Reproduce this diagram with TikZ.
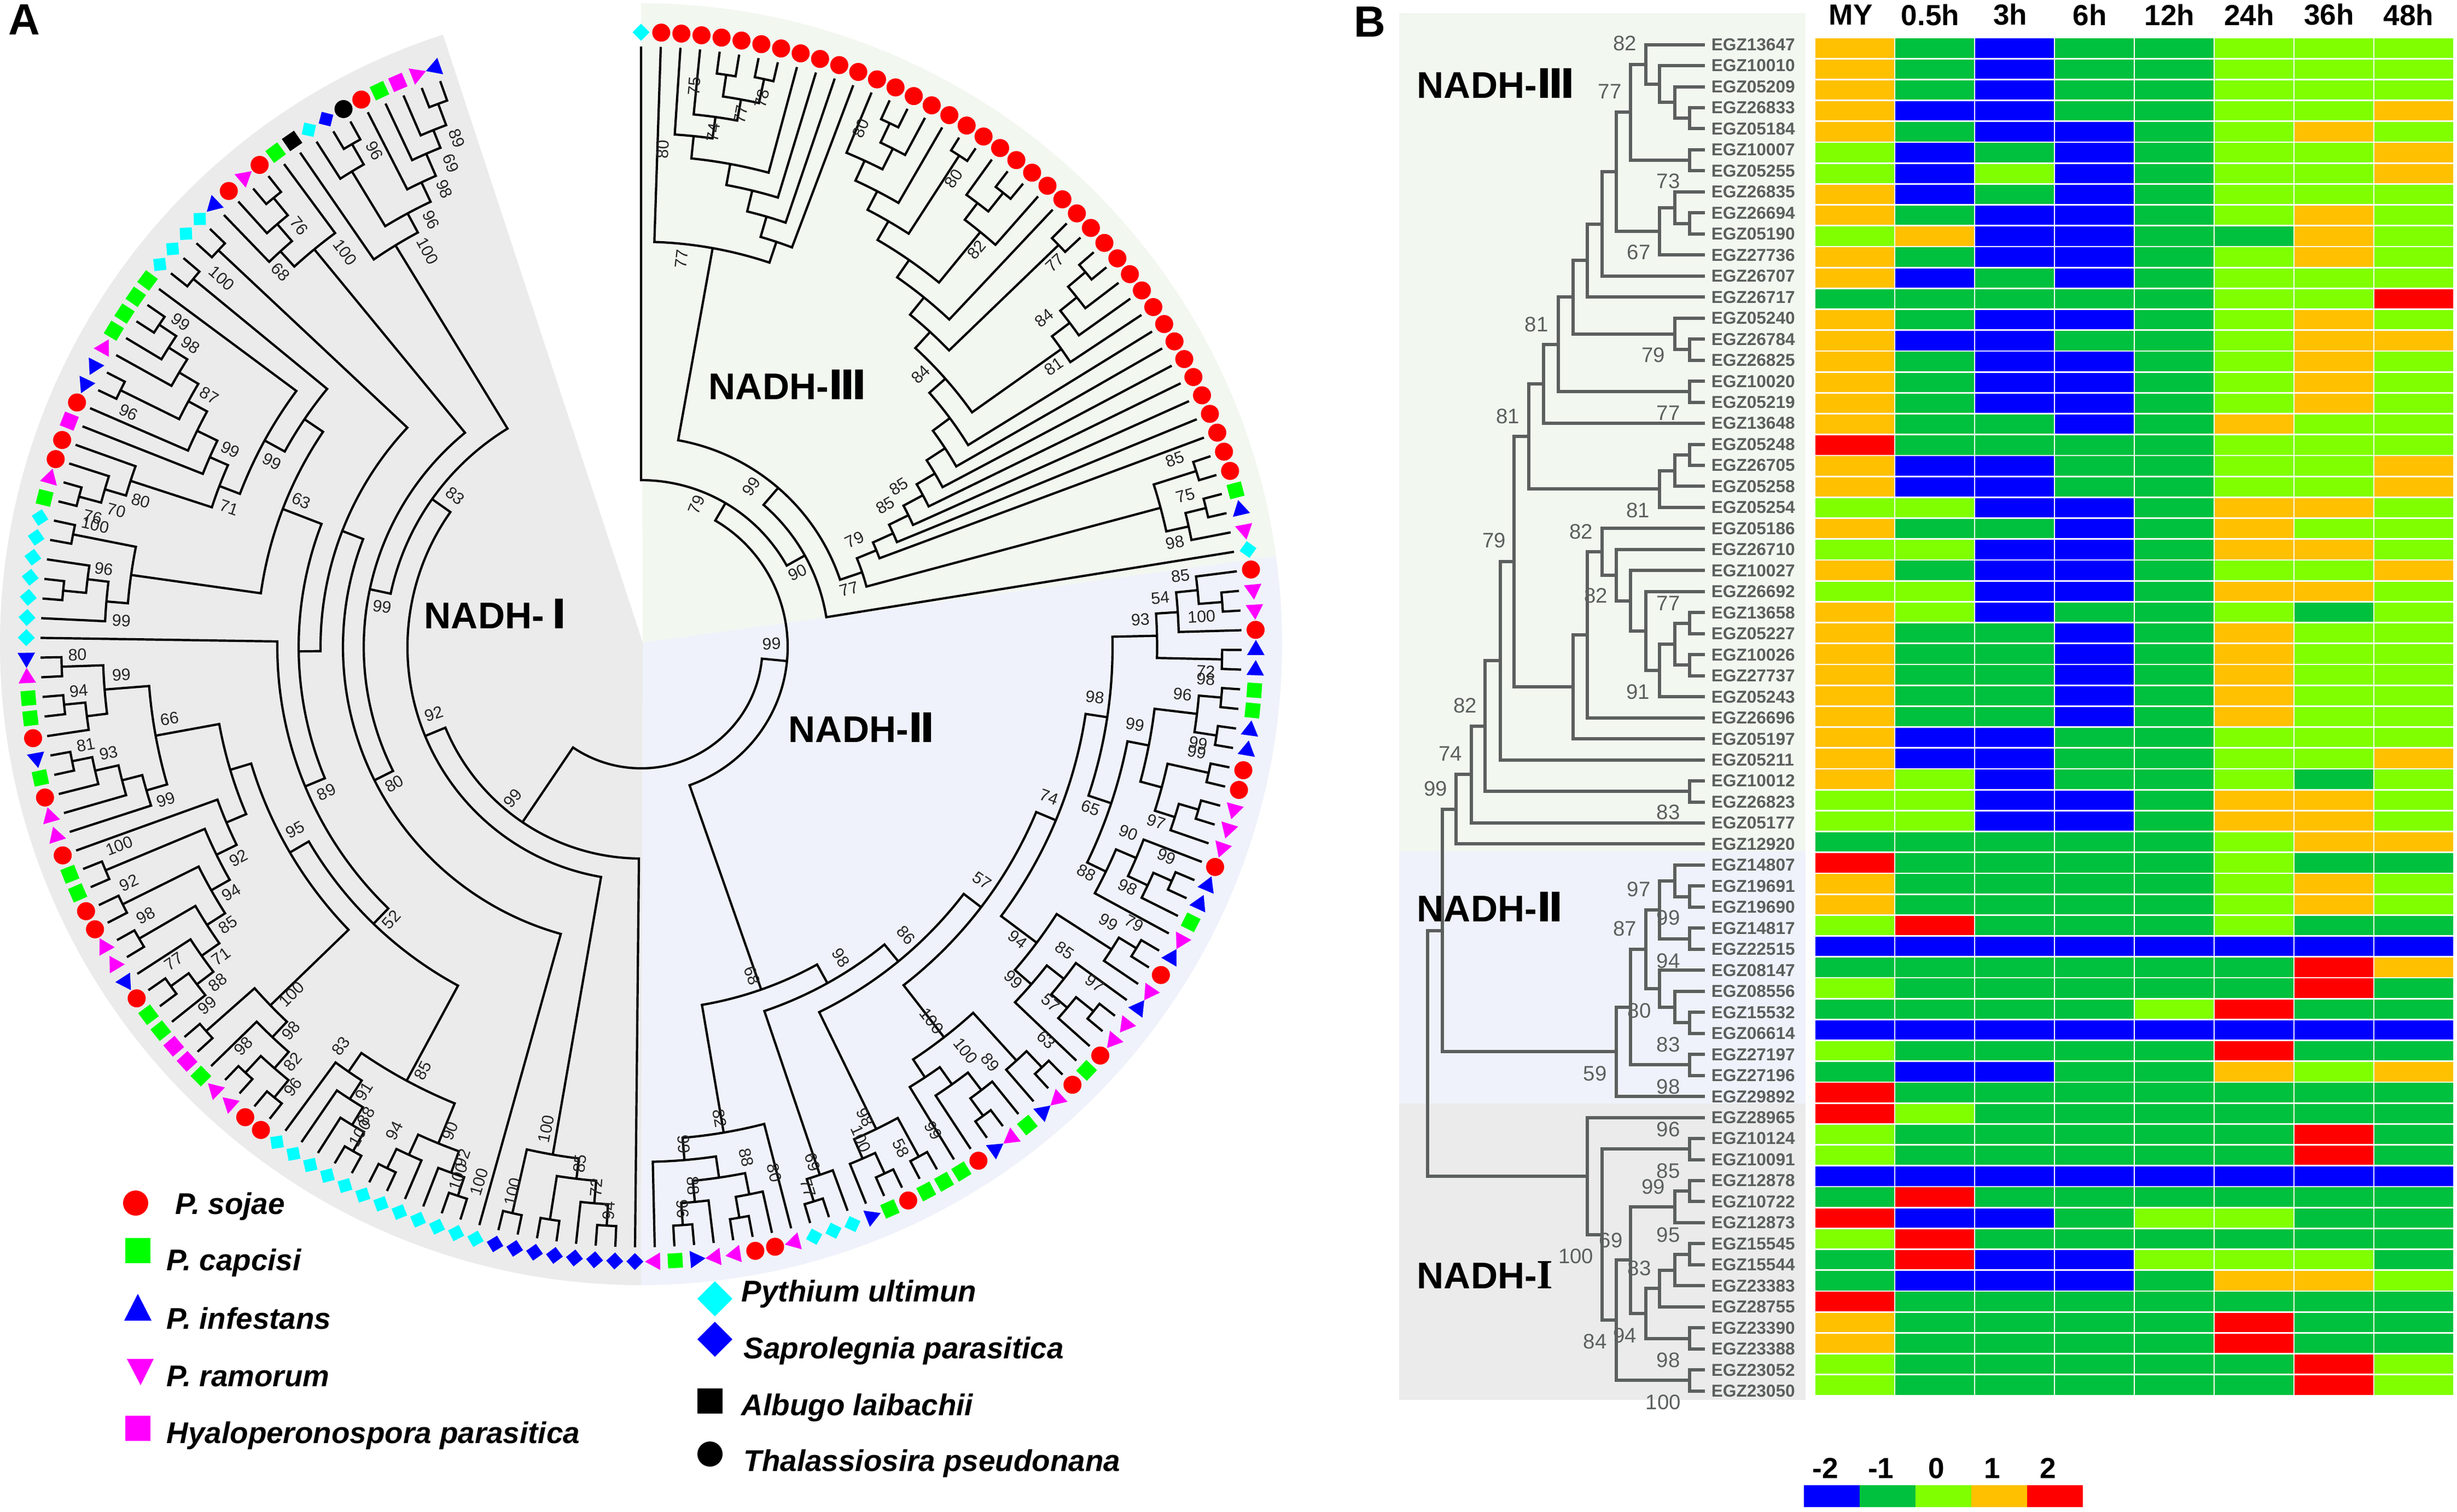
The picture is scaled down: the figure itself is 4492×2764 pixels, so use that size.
\documentclass[tikz,border=0pt]{standalone}
\usepackage{fontspec}
\setmainfont{Liberation Sans}
\newfontfamily\romfont{DejaVu Sans}
\newfontfamily\serfont{Liberation Serif}
\def\rmn#1{{\romfont\fontsize{18.6}{19}\selectfont #1}}
\definecolor{hO}{HTML}{FFC000}
\definecolor{hG}{HTML}{00C13E}
\definecolor{hL}{HTML}{80FF00}
\definecolor{hB}{HTML}{0000FF}
\definecolor{hR}{HTML}{FF0000}
\definecolor{bgg}{HTML}{F2F7F0}
\definecolor{bgb}{HTML}{EFF2FA}
\definecolor{bgk}{HTML}{EBEBEB}
\definecolor{treeb}{HTML}{5B605E}
\definecolor{mcy}{HTML}{00FFFF}
\definecolor{mgr}{HTML}{00FF00}
\definecolor{mma}{HTML}{FF00FF}
\tikzset{
  cbr/.style={line width=1.05pt,black,line cap=butt,line join=miter},
  bbr/.style={line width=1.5pt,treeb,line cap=butt,line join=miter},
  lab/.style={font=\fontsize{7.6}{8}\selectfont,inner sep=0pt,text=black!85},
  blab/.style={font=\fontsize{9.6}{10}\selectfont,inner sep=0pt,text=treeb},
  gene/.style={font=\fontsize{7.9}{9}\selectfont\bfseries,inner sep=0pt,anchor=west,text=treeb},
  clade/.style={font=\fontsize{17}{18}\selectfont\bfseries,inner sep=0pt,anchor=west},
  head/.style={font=\fontsize{13.3}{14}\selectfont\bfseries,inner sep=0pt},
  legt/.style={font=\fontsize{13.7}{15}\selectfont\bfseries\itshape,inner sep=0pt,anchor=west},
  pan/.style={font=\fontsize{20}{22}\selectfont\bfseries,inner sep=0pt},
}
\def\tstep{1.881}
\newcount\lfc \lfc=-1
\def\Lv{\global\advance\lfc by 1 \xdef\retP{\the\lfc}\xdef\retR{1098}}
\def\Nr#1#2#3{\begingroup
  #2\edef\myPa{\retP}\edef\myRa{\retR}%
  #3\edef\myPb{\retP}\edef\myRb{\retR}%
  \pgfmathsetmacro\myAa{90-\tstep*\myPa}\pgfmathsetmacro\myAb{90-\tstep*\myPb}%
  \pgfmathsetmacro\myRn{#1}%
  \draw[cbr] (\myAa:\myRa) -- (\myAa:\myRn) arc[start angle=\myAa,end angle=\myAb,radius=\myRn] -- (\myAb:\myRb);%
  \pgfmathsetmacro\myMid{(\myPa+\myPb)/2}\xdef\retP{\myMid}\xdef\retR{\myRn}%
  \endgroup}
\def\Na#1#2{\Nr{veclen(#1/1.307-1172,#2/1.307-1183)}}
\def\Nb#1#2{\Nr{veclen(#1/1.307-1172,#2/1.307+1150-1183)}}
\def\Nc#1#2{\Nr{veclen(#1/1.2975+1150-1172,#2/1.363-1183)}}
\def\Nd#1#2{\Nr{veclen(#1/1.2975+1150-1172,#2/1.254+1100-1183)}}
% section III
\def\TVa{\Nc{58}{603}{\Lv}{\Nc{388}{617}{\Nc{372}{555}{\Nc{352}{492}{\Nc{330}{430}{\Nc{105}{335}{\Lv}{\Nc{152}{285}{\Lv}{\Nc{220}{240}{\Nc{207}{183}{\Lv}{\Lv}}{\Nc{297}{192}{\Lv}{\Lv}}}}}{\Lv}}{\Lv}}{\Lv}}{\Lv}}}
\def\TwT{\Nc{565}{522}{\Nc{537}{450}{\Nc{515}{380}{\Lv}{\Nc{597}{355}{\Nc{598}{297}{\Lv}{\Lv}}{\Lv}}}{\Lv}}{\Nc{757}{370}{\Lv}{\Lv}}}
\def\TpO{\Nc{797}{548}{\Nc{803}{487}{\Lv}{\Nc{870}{465}{\Lv}{\Lv}}}{\Lv}}
\def\TuT{\Nc{668}{785}{\Nc{635}{690}{\Nc{590}{598}{\TwT}{\TpO}}{\Lv}}{\Nc{1005}{595}{\Lv}{\Lv}}}
\def\TuN{\Nc{1005}{840}{\Nc{1025}{777}{\Nc{1042}{715}{\Nc{1068}{660}{\Lv}{\Lv}}{\Lv}}{\Lv}}{\Lv}}
\def\TuO{\Nc{580}{1355}{\Nc{618}{1310}{\Nc{652}{1262}{\Nc{683}{1208}{\Nc{708}{1150}{\Nc{722}{1075}{\Nc{715}{982}{\Nc{680}{868}{\TuT}{\TuN}}{\Lv}}{\Lv}}{\Lv}}{\Lv}}{\Lv}}{\Lv}}{\Lv}}
\def\TCc{\Nc{1245}{1208}{\Nc{1338}{1150}{\Lv}{\Lv}}{\Nc{1320}{1278}{\Nc{1363}{1243}{\Lv}{\Lv}}{\Lv}}}
\def\TIII{\Nr{305}{\Lv}{\Nr{343}{\Nr{384}{\TVa}{\Nc{540}{1390}{\TuO}{\TCc}}}{\Lv}}}
% section II
\def\Tmm{\Nc{1298}{1478}{\Nc{1345}{1437}{\Lv}{\Nc{1405}{1475}{\Lv}{\Lv}}}{\Lv}}
\def\Too{\Nd{1250}{25}{\Tmm}{\Nd{1407}{108}{\Lv}{\Lv}}}
\def\Tkk{\Nd{1247}{243}{\Nd{1352}{213}{\Nd{1407}{197}{\Lv}{\Lv}}{\Nd{1397}{285}{\Lv}{\Lv}}}{\Nd{1278}{370}{\Nd{1380}{370}{\Lv}{\Lv}}{\Nd{1305}{462}{\Nd{1358}{453}{\Lv}{\Lv}}{\Lv}}}}
\def\Tll{\Nd{1157}{565}{\Nd{1222}{543}{\Lv}{\Nd{1245}{620}{\Nd{1297}{620}{\Lv}{\Lv}}{\Lv}}}{\Lv}}
\def\Tpp{\Nd{1017}{713}{\Nd{1165}{767}{\Nd{1218}{772}{\Lv}{\Lv}}{\Lv}}{\Nd{995}{830}{\Nd{1063}{825}{\Lv}{\Nd{1065}{903}{\Nd{1120}{918}{\Lv}{\Lv}}{\Lv}}}{\Lv}}}
\def\Tqq{\Nd{820}{940}{\Nd{948}{1027}{\Nd{1000}{1050}{\Lv}{\Lv}}{\Lv}}{\Nd{742}{1065}{\Nd{808}{1078}{\Nd{867}{1097}{\Lv}{\Nd{865}{1162}{\Lv}{\Lv}}}{\Lv}}{\Lv}}}
\def\Trr{\Nd{640}{1183}{\Nd{712}{1260}{\Lv}{\Lv}}{\Nd{590}{1262}{\Nd{632}{1300}{\Lv}{\Lv}}{\Lv}}}
\def\Tss{\Nd{488}{1303}{\Lv}{\Nd{463}{1368}{\Lv}{\Lv}}}
\def\Ttt{\Nd{325}{1197}{\Lv}{\Nd{210}{1272}{\Nd{280}{1310}{\Nd{322}{1352}{\Lv}{\Nd{290}{1408}{\Lv}{\Lv}}}{\Nd{192}{1373}{\Lv}{\Nd{152}{1428}{\Lv}{\Lv}}}}{\Lv}}}
\def\TII{\Nr{664}{\Nr{703}{\Nr{743}{\Nr{783}{\Nr{822}{\Nr{862}{\Too}{\Nd{1183}{318}{\Tkk}{\Tll}}}{\Tpp}}{\Tqq}}{\Trr}}{\Tss}}{\Ttt}}
% section I
\def\TDa{\Nb{1262}{1245}{\Nb{1332}{1308}{\Nb{1390}{1370}{\Nb{1430}{1425}{\Lv}{\Lv}}{\Lv}}{\Nb{1292}{1408}{\Lv}{\Lv}}}{\Nb{1205}{1392}{\Lv}{\Lv}}}
\def\TsO{\Nb{1088}{1135}{\Nb{1100}{1250}{\Nb{1113}{1312}{\Nb{1115}{1362}{\Lv}{\Lv}}{\Lv}}{\Nb{1010}{1272}{\Lv}{\Nb{947}{1300}{\Lv}{\Lv}}}}{\Nb{865}{1080}{\Nb{870}{1145}{\Nb{818}{1172}{\Nb{868}{1262}{\Lv}{\Lv}}{\Lv}}{\Lv}}{\Lv}}}
\def\TtO{\Nb{610}{862}{\Nb{617}{943}{\Nb{627}{1025}{\Nb{640}{1108}{\Lv}{\Lv}}{\Nb{575}{1050}{\Lv}{\Lv}}}{\Lv}}{\Nb{482}{950}{\Lv}{\Lv}}}
\def\TuA{\Nb{523}{418}{\Nb{492}{485}{\Nb{478}{575}{\Nb{470}{668}{\Nb{458}{747}{\Nb{455}{830}{\Lv}{\Nb{400}{843}{\Lv}{\Lv}}}{\Lv}}{\Nb{325}{728}{\Lv}{\Lv}}}{\Nb{287}{647}{\Lv}{\Lv}}}{\Nb{247}{565}{\Lv}{\Lv}}}{\Lv}}
\def\TVv{\Nb{357}{145}{\Nb{342}{358}{\Lv}{\Nb{285}{335}{\Lv}{\Nb{222}{315}{\Lv}{\Nb{170}{305}{\Lv}{\Lv}}}}}{\Nb{247}{97}{\Nb{205}{187}{\Lv}{\Nb{152}{170}{\Lv}{\Lv}}}{\Nb{147}{78}{\Lv}{\Lv}}}}
\def\TRr{\Nr{665}{\Nr{704}{\TsO}{\Nr{744}{\TtO}{\Nr{784}{\TuA}{\TVv}}}}{\Lv}}
\def\TOo{\Na{323}{1315}{\Na{258}{1400}{\Lv}{\Na{212}{1362}{\Na{152}{1400}{\Lv}{\Lv}}{\Lv}}}{\Na{177}{1265}{\Lv}{\Lv}}}
\def\TLo{\Na{320}{1125}{\Na{258}{1145}{\Na{192}{1175}{\Lv}{\Lv}}{\Lv}}{\Lv}}
\def\TAa{\Na{515}{1062}{\Lv}{\Na{490}{992}{\Lv}{\Na{468}{927}{\Na{293}{922}{\Lv}{\Lv}}{\Na{440}{870}{\Lv}{\Na{415}{812}{\Lv}{\Na{385}{768}{\Lv}{\Lv}}}}}}}
\def\TMm{\Nr{743}{\Nr{785}{\Na{540}{1122}{\TLo}{\TAa}}{\Lv}}{\Na{440}{693}{\Lv}{\Lv}}}
\def\THb{\Na{790}{565}{\Na{690}{582}{\Lv}{\Na{680}{520}{\Lv}{\Na{663}{465}{\Lv}{\Lv}}}}{\Lv}}
\def\TFf{\Na{990}{560}{\Lv}{\Na{1018}{487}{\Na{857}{400}{\Lv}{\Na{848}{340}{\Lv}{\Lv}}}{\Na{1030}{425}{\Lv}{\Na{1035}{360}{\Lv}{\Na{1050}{305}{\Lv}{\Na{1055}{245}{\Lv}{\Lv}}}}}}}
\def\TI{\Nr{387}{\Lv}{\Nr{427}{\TDa}{\Nr{468}{\Nr{507}{\Nr{545}{\Lv}{\Nr{586}{\Nr{626}{\TRr}{\Nr{702}{\TOo}{\TMm}}}{\Na{527}{592}{\Lv}{\Lv}}}}{\THb}}{\TFf}}}}
% labels
\def\LL#1#2#3{\pgfmathsetmacro\lbx{#1}\pgfmathsetmacro\lby{#2}%
  \pgfmathsetmacro\lbp{atan2(1183-\lby,\lbx-1172)}%
  \pgfmathsetmacro\lbq{\lbp>90?\lbp-180:(\lbp<-90?\lbp+180:\lbp)}%
  \node[lab,rotate=\lbq] at (\lbx,-\lby) {#3};}
\def\LA#1#2#3{\LL{#1/1.307}{#2/1.307}{#3}}
\def\LB#1#2#3{\LL{#1/1.307}{#2/1.307+1150}{#3}}
\def\LC#1#2#3{\LL{#1/1.2975+1150}{#2/1.363}{#3}}
\def\LD#1#2#3{\LL{#1/1.2975+1150}{#2/1.254+1100}{#3}}
% markers
\def\mkR{1124}
\def\mkang#1{\pgfmathsetmacro\mkt{\tstep*#1}\pgfmathsetmacro\mka{90-\mkt}}
\def\mksq#1#2{\mkang{#2}\fill[#1,shift={(\mka:\mkR)},rotate=-\mkt] (-13.5,-13.5) rectangle (13.5,13.5);}
\def\mkdi#1#2{\mkang{#2}\fill[#1,shift={(\mka:\mkR)},rotate=45-\mkt] (-11,-11) rectangle (11,11);}
\def\mkr#1{\mkang{#1}\fill[red] (\mka:\mkR) circle[radius=16.5];}
\def\mkg#1{\mksq{mgr}{#1}}
\def\mkh#1{\mksq{mma}{#1}}
\def\mkk#1{\mksq{black}{#1}}
\def\mkc#1{\mkdi{mcy}{#1}}
\def\mks#1{\mkdi{hB}{#1}}
\def\mko#1{\mkang{#1}\fill[black] (\mka:\mkR) circle[radius=16.5];}
\def\mkb#1{\mkang{#1}\pgfmathsetmacro\mkp{180-\mkt}\fill[hB,shift={(\mka:\mkR)}] (\mkp:18.5) -- (\mkp+120:18.5) -- (\mkp+240:18.5) -- cycle;}
\def\mkm#1{\mkang{#1}\pgfmathsetmacro\mkp{-\mkt}\fill[mma,shift={(\mka:\mkR)}] (\mkp:18.5) -- (\mkp+120:18.5) -- (\mkp+240:18.5) -- cycle;}
% tree B
\newcount\lfb \lfb=-1
\def\Qv{\global\advance\lfb by 1 \pgfmathsetmacro\qqy{81.6+38.47*\the\lfb}\xdef\retY{\qqy}\xdef\retX{3117}}
\def\Qn#1#2#3{\begingroup
  #2\edef\qYa{\retY}\edef\qXa{\retX}%
  #3\edef\qYb{\retY}\edef\qXb{\retX}%
  \pgfmathsetmacro\qXn{2540+#1/1.568}%
  \draw[bbr] (\qXa,-\qYa) -- (\qXn,-\qYa) -- (\qXn,-\qYb) -- (\qXb,-\qYb);%
  \pgfmathsetmacro\qYm{(\qYa+\qYb)/2}\xdef\retY{\qYm}\xdef\retX{\qXn}%
  \endgroup}
\def\Qp{\Qn{860}{\Qv}{\Qv}}
\def\BA{\Qn{692}{\Qn{735}{\Qv}{\Qn{775}{\Qv}{\Qn{818}{\Qv}{\Qp}}}}{\Qp}}
\def\BB{\Qn{775}{\Qn{818}{\Qv}{\Qp}}{\Qv}}
\def\BC{\Qn{568}{\Qn{610}{\Qn{650}{\BA}{\BB}}{\Qv}}{\Qv}}
\def\BD{\Qn{527}{\BC}{\Qn{818}{\Qv}{\Qp}}}
\def\BE{\Qn{400}{\Qn{442}{\Qn{485}{\BD}{\Qp}}{\Qv}}{\Qn{775}{\Qn{818}{\Qp}{\Qv}}{\Qv}}}
\def\BF{\Qn{527}{\Qn{568}{\Qn{610}{\Qv}{\Qn{650}{\Qv}{\Qn{692}{\Qv}{\Qn{735}{\Qv}{\Qn{775}{\Qn{818}{\Qp}{\Qp}}{\Qv}}}}}}{\Qv}}{\Qv}}
\def\BIII{\Qn{192}{\Qn{235}{\Qn{275}{\Qn{318}{\Qn{358}{\BE}{\BF}}{\Qv}}{\Qp}}{\Qv}}{\Qv}}
\def\BII{\Qn{650}{\Qn{692}{\Qn{735}{\Qn{775}{\Qn{818}{\Qv}{\Qp}}{\Qp}}{\Qn{775}{\Qv}{\Qn{818}{\Qv}{\Qp}}}}{\Qp}}{\Qv}}
\def\BI{\Qn{568}{\Qv}{\Qn{610}{\Qp}{\Qn{650}{\Qn{692}{\Qn{818}{\Qp}{\Qv}}{\Qn{735}{\Qn{775}{\Qn{818}{\Qp}{\Qv}}{\Qv}}{\Qp}}}{\Qp}}}}
\def\bFv#1#2#3{\node[blab] at (2540+#1/1.568,-#2/1.568) {#3};}
\def\bSx#1#2#3{\node[blab] at (2540+#1/1.568,-950-#2/1.568) {#3};}
\def\bSv#1#2#3{\node[blab] at (2540+#1/1.568,-1800-#2/1.6266) {#3};}
\begin{document}
\begin{tikzpicture}[x=0.25pt,y=0.25pt]
\useasboundingbox (0,0) rectangle (4492,-2764);
\fill[white] (0,0) rectangle (4492,-2764);
% ---- sectors
\begin{scope}[shift={(1172,-1178)}]
\fill[bgg] (3,3) -- (90:1172) arc[start angle=90,end angle=7.9,radius=1172] -- cycle;
\fill[bgb] (3,3) -- (7.9:1172) arc[start angle=7.9,end angle=-90,radius=1172] -- cycle;
\fill[bgk] (3,3) -- (-90:1172) arc[start angle=-90,end angle=-252,radius=1172] -- cycle;
\end{scope}
% ---- circular tree
\begin{scope}[shift={(1172,-1183)}]
\Nr{222}{\Nr{268}{\TIII}{\TII}}{\TI}
\end{scope}
% ---- bootstrap labels
\LA{1092}{330}{89}\LA{1077}{390}{69}\LA{1062}{452}{98}\LA{1030}{525}{96}\LA{1022}{600}{100}\LA{895}{360}{96}\LA{715}{540}{76}\LA{825}{603}{100}\LA{670}{650}{68}\LA{530}{665}{100}\LA{432}{770}{99}\LA{455}{825}{98}\LA{500}{945}{87}\LA{307}{985}{96}\LA{550}{1075}{99}\LA{650}{1103}{99}\LA{337}{1197}{80}\LA{548}{1213}{71}\LA{278}{1220}{70}\LA{720}{1197}{63}\LA{1088}{1185}{83}\LA{222}{1235}{76}\LA{228}{1255}{100}\LA{248}{1360}{96}\LA{913}{1450}{99}\LA{290}{1483}{99}
\LB{185}{62}{80}\LB{290}{110}{99}\LB{188}{148}{94}\LB{405}{215}{66}\LB{1037}{203}{92}\LB{205}{277}{81}\LB{260}{297}{93}\LB{397}{408}{99}\LB{780}{390}{89}\LB{942}{370}{80}\LB{1225}{405}{99}\LB{705}{480}{95}\LB{285}{518}{100}\LB{570}{548}{92}\LB{308}{607}{92}\LB{553}{630}{94}\LB{348}{685}{98}\LB{935}{695}{52}\LB{545}{707}{85}\LB{528}{783}{71}\LB{415}{795}{77}\LB{520}{845}{88}\LB{697}{873}{100}\LB{495}{900}{99}\LB{695}{960}{98}\LB{582}{997}{98}\LB{815}{997}{83}\LB{700}{1035}{82}\LB{1010}{1055}{85}\LB{700}{1095}{96}\LB{870}{1105}{91}\LB{875}{1165}{88}\LB{942}{1200}{94}\LB{1075}{1200}{90}\LB{860}{1205}{100}\LB{1305}{1195}{100}\LB{1105}{1265}{92}\LB{1095}{1310}{100}\LB{1385}{1278}{85}\LB{1145}{1322}{100}\LB{1425}{1335}{72}\LB{1225}{1345}{100}\LB{1455}{1390}{94}
\LC{155}{215}{75}\LC{315}{245}{78}\LC{265}{285}{77}\LC{200}{330}{74}\LC{80}{372}{80}\LC{550}{320}{80}\LC{770}{445}{80}\LC{825}{622}{82}\LC{125}{645}{77}\LC{1010}{655}{77}\LC{985}{793}{84}\LC{692}{933}{84}\LC{1008}{913}{81}\LC{1295}{1145}{85}\LC{1320}{1235}{75}\LC{640}{1213}{85}\LC{608}{1260}{85}\LC{290}{1212}{99}\LC{160}{1258}{79}\LC{535}{1345}{79}\LC{1295}{1352}{98}\LC{400}{1427}{90}\LC{522}{1468}{77}\LC{1308}{1435}{85}\LC{1260}{1490}{54}
\LD{1213}{42}{93}\LD{1358}{35}{100}\LD{338}{97}{99}\LD{1368}{160}{72}\LD{1368}{178}{98}\LD{1313}{213}{96}\LD{1105}{220}{98}\LD{1200}{282}{99}\LD{1350}{325}{99}\LD{1347}{345}{99}\LD{997}{448}{74}\LD{1095}{473}{65}\LD{1250}{505}{97}\LD{1185}{530}{90}\LD{1275}{585}{99}\LD{1085}{622}{88}\LD{837}{640}{57}\LD{1183}{655}{98}\LD{1137}{735}{99}\LD{1198}{738}{79}\LD{657}{765}{86}\LD{922}{775}{94}\LD{1033}{800}{85}\LD{503}{817}{98}\LD{292}{858}{68}\LD{912}{867}{99}\LD{1105}{875}{97}\LD{1000}{920}{57}\LD{718}{962}{100}\LD{990}{1005}{63}\LD{798}{1030}{100}\LD{857}{1057}{89}\LD{722}{1213}{99}\LD{560}{1183}{98}\LD{215}{1185}{82}\LD{550}{1232}{100}\LD{645}{1253}{58}\LD{130}{1245}{99}\LD{278}{1275}{88}\LD{435}{1285}{69}\LD{345}{1310}{80}\LD{425}{1345}{77}\LD{152}{1340}{88}\LD{127}{1393}{96}
% ---- markers
\begin{scope}[shift={(1172,-1183)}]
\foreach \c [count=\i from 0] in {c,r,r,r,r,r,r,r,r,r,r,r,r,r,r,r,r,r,r,r,r,r,r,r,r,r,r,r,r,r,r,r,r,r,r,r,r,r,r,r,g,b,m,c,r,m,m,r,b,b,g,g,b,b,r,r,m,m,m,r,b,b,g,m,b,r,m,b,m,m,r,g,r,m,b,g,m,b,r,g,g,g,r,g,b,c,c,c,m,r,r,m,m,b,g,m,s,s,s,s,s,s,s,s,c,c,c,c,c,c,c,c,c,c,c,c,r,r,m,m,g,h,h,g,g,r,b,m,m,r,r,g,g,r,m,m,r,g,b,r,g,g,m,b,c,c,c,c,c,c,c,g,m,r,r,h,r,b,b,m,g,g,g,g,c,c,c,c,b,r,m,r,g,k,c,s,o,r,g,h,m,b}
  {\csname mk\c\endcsname{\i}}
\end{scope}
% ---- clade names panel A
\node[clade] at (775,-1122) {NADH-\hspace{3.5pt}\rmn{Ⅰ}};
\node[clade] at (1295,-703) {NADH-\rmn{Ⅲ}};
\node[clade] at (1441,-1330) {NADH-\rmn{Ⅱ}};
\node[pan] at (44,-36) {A};
\node[pan] at (2504,-40) {B};
% ---- legend A
\fill[red] (248,-2200) circle[radius=23];
\fill[mgr] (229,-2264) rectangle (275,-2310);
\fill[hB] (252,-2366) -- (277,-2415) -- (227,-2415) -- cycle;
\fill[mma] (232,-2485) -- (281,-2485) -- (257,-2533) -- cycle;
\fill[mma] (229,-2589) rectangle (275,-2635);
\fill[mcy] (1307,-2343) -- (1339,-2375) -- (1307,-2407) -- (1275,-2375) -- cycle;
\fill[hB] (1307,-2417) -- (1339,-2449) -- (1307,-2481) -- (1275,-2449) -- cycle;
\fill[black] (1275,-2539) rectangle (1321,-2585);
\fill[black] (1298,-2659) circle[radius=23];
\node[legt] at (320,-2206) {P. sojae};
\node[legt] at (304,-2309) {P. capcisi};
\node[legt] at (304,-2411) {P. infestans};
\node[legt] at (304,-2517) {P. ramorum};
\node[legt] at (304,-2625) {Hyaloperonospora parasitica};
\node[legt] at (1355,-2366) {Pythium ultimun};
\node[legt] at (1359,-2470) {Saprolegnia parasitica};
\node[legt] at (1355,-2574) {Albugo laibachii};
\node[legt] at (1359,-2676) {Thalassiosira pseudonana};
% ---- panel B backgrounds
\fill[bgg] (2558,-24) rectangle (3301,-1557);
\fill[bgb] (2558,-1557) rectangle (3301,-2018);
\fill[bgk] (2558,-2018) rectangle (3301,-2560);
% ---- tree B
\Qn{110}{\Qn{152}{\BIII}{\BII}}{\BI}
% ---- clade names B
\node[clade] at (2590,-152) {NADH-\rmn{Ⅲ}};
\node[clade] at (2590,-1658) {NADH-\rmn{Ⅱ}};
\node[clade] at (2590,-2332) {NADH-{\serfont\fontsize{19}{19}\selectfont I}};
% ---- gene labels
\foreach \g [count=\r from 0] in {13647,10010,05209,26833,05184,10007,05255,26835,26694,05190,27736,26707,26717,05240,26784,26825,10020,05219,13648,05248,26705,05258,05254,05186,26710,10027,26692,13658,05227,10026,27737,05243,26696,05197,05211,10012,26823,05177,12920,14807,19691,19690,14817,22515,08147,08556,15532,06614,27197,27196,29892,28965,10124,10091,12878,10722,12873,15545,15544,23383,28755,23390,23388,23052,23050}
  {\pgfmathsetmacro\gy{81.6+38.47*\r}\node[gene] at (3128,-\gy) {EGZ\g};}
% ---- B labels
\bFv{675}{125}{82}\bFv{632}{262}{77}\bFv{800}{520}{73}\bFv{715}{723}{67}\bFv{422}{930}{81}\bFv{757}{1018}{79}\bFv{800}{1185}{77}\bFv{340}{1193}{81}\bFv{713}{1463}{81}\bFv{550}{1525}{82}\bFv{300}{1550}{79}
\bSx{592}{218}{82}\bSx{800}{240}{77}\bSx{713}{495}{91}\bSx{217}{533}{82}\bSx{175}{672}{74}\bSx{133}{772}{99}\bSx{800}{840}{83}\bSx{715}{1060}{97}\bSx{800}{1142}{99}\bSx{675}{1173}{87}\bSx{800}{1265}{94}\bSx{717}{1408}{80}\bSx{800}{1505}{83}
\bSv{590}{265}{59}\bSv{800}{305}{98}\bSv{800}{432}{96}\bSv{800}{555}{85}\bSv{757}{603}{99}\bSv{635}{762}{69}\bSv{535}{808}{100}\bSv{800}{745}{95}\bSv{717}{845}{83}\bSv{675}{1045}{94}\bSv{590}{1063}{84}\bSv{800}{1118}{98}\bSv{785}{1243}{100}
% ---- heat map
\foreach \rowd [count=\r from 0] in {{O,G,B,G,G,L,L,L},{O,G,B,G,G,L,L,L},{O,G,B,G,G,L,L,L},{O,B,B,G,G,L,L,O},{O,G,B,B,G,L,O,L},{L,B,G,B,G,L,L,O},{L,B,L,B,G,L,L,O},{O,B,G,B,G,L,L,L},{O,G,B,B,G,L,O,L},{L,O,B,B,G,G,O,L},{O,G,B,B,G,L,O,L},{O,B,G,B,G,L,L,L},{G,G,G,G,G,L,L,R},{O,G,B,B,G,L,O,L},{O,B,B,G,G,L,O,O},{O,G,B,B,G,L,O,L},{O,G,B,B,G,L,O,L},{O,G,B,B,G,L,O,L},{O,G,G,B,G,O,L,L},{R,G,G,G,G,L,L,L},{O,B,B,G,G,L,L,O},{O,B,B,G,G,L,L,O},{L,L,B,B,G,O,O,L},{O,G,G,B,G,O,L,L},{L,L,B,B,G,O,O,L},{O,G,B,B,G,L,L,O},{L,L,B,B,G,O,O,L},{O,L,B,G,G,L,G,L},{O,G,G,B,G,O,L,L},{O,G,G,B,G,O,L,L},{O,G,G,B,G,O,L,L},{O,G,G,B,G,O,L,L},{O,G,G,B,G,O,L,L},{O,B,B,G,G,L,L,L},{O,B,B,G,G,L,L,O},{O,L,B,G,G,L,G,L},{L,L,B,B,G,O,O,L},{L,L,B,B,G,O,O,L},{G,G,G,G,G,L,O,O},{R,G,G,G,G,L,G,G},{O,G,G,G,G,L,O,L},{O,G,G,G,G,L,O,L},{L,R,G,G,G,L,G,G},{B,B,B,B,B,B,B,B},{G,G,G,G,G,G,R,O},{L,G,G,G,G,G,R,G},{G,G,G,G,L,R,G,G},{B,B,B,B,B,B,B,B},{L,G,G,G,G,R,G,G},{G,B,B,G,G,O,L,O},{R,G,G,G,G,G,G,G},{R,L,G,G,G,G,G,G},{L,G,G,G,G,G,R,G},{L,G,G,G,G,G,R,G},{B,B,B,B,B,B,B,B},{G,R,G,G,G,G,G,G},{R,B,B,G,L,L,G,G},{L,R,G,G,G,G,G,G},{G,R,B,B,L,L,L,G},{G,B,B,B,G,O,O,L},{R,G,G,G,G,G,G,G},{O,G,G,G,G,R,G,G},{O,G,G,G,G,R,G,G},{L,G,G,G,G,G,R,L},{L,G,G,G,G,G,R,L}}
{
  \pgfmathsetmacro\hya{69+38.2*\r+1.4}
  \pgfmathsetmacro\hyb{69+38.2*(\r+1)-1.4}
  \foreach \c [count=\k from 0] in \rowd {
    \pgfmathsetmacro\hxa{3318+146*\k+1}
    \pgfmathsetmacro\hxb{3318+146*(\k+1)-1}
    \fill[fill=h\c] (\hxa,-\hya) rectangle (\hxb,-\hyb);
  }
}
% ---- heat headers
\foreach \t/\zx in {MY/180,0.5h/362,3h/545,6h/727,12h/910,24h/1092,36h/1275,48h/1457}
  {\pgfmathsetmacro\hx{3240+\zx/1.2524}\node[head] at (\hx,-27) {\t};}
% ---- colour key
\foreach \c/\t [count=\k from 0] in {B/-2,G/-1,L/0,O/1,R/2}{
  \pgfmathsetmacro\kxa{3297.5+102*\k}
  \pgfmathsetmacro\kxb{\kxa+102}
  \pgfmathsetmacro\kxm{3337+101.7*\k}
  \fill[fill=h\c] (\kxa,-2716) rectangle (\kxb,-2756);
  \node[head] at (\kxm,-2685) {\t};
}
\end{tikzpicture}
\end{document}
